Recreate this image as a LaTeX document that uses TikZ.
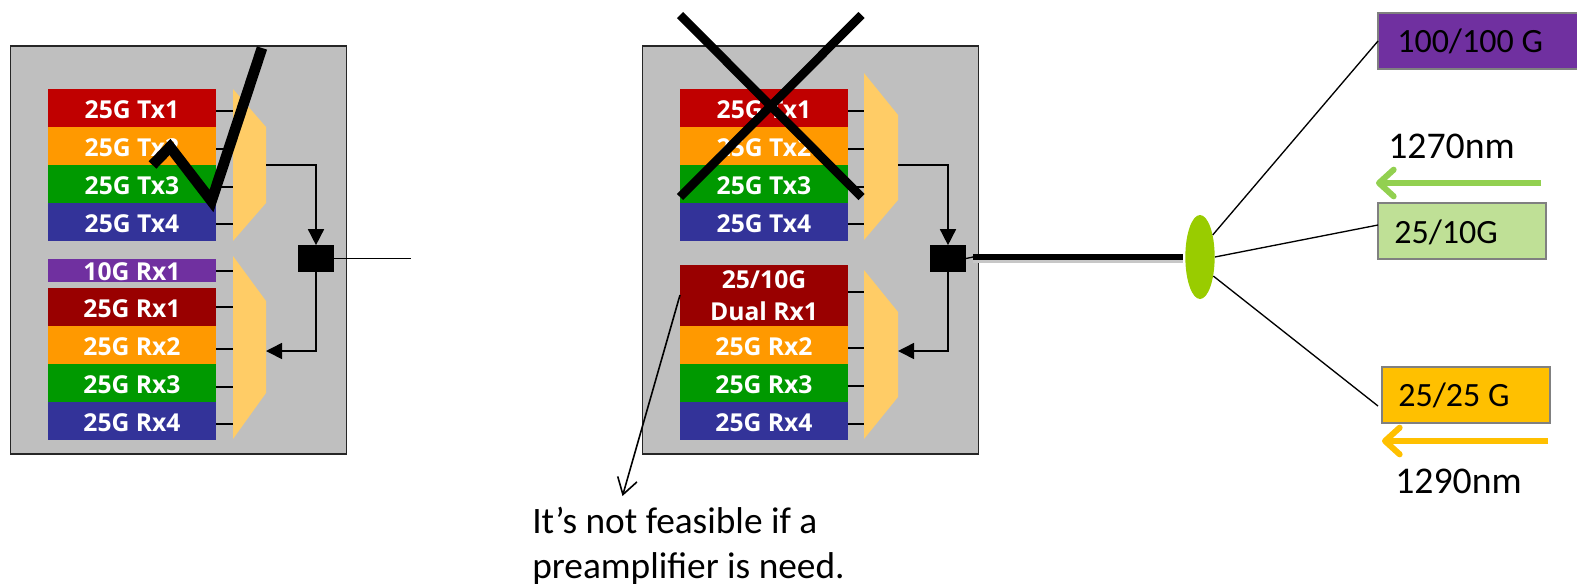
\documentclass[tikz,border=0pt]{standalone}
\usepackage{fontspec}
\usepackage{xcolor}
\usetikzlibrary{arrows.meta,shapes.geometric,calc}
\setmainfont{Carlito}
\newfontfamily\barfont{Open Sans}
\definecolor{boxgrey}{HTML}{BFBFBF}
\definecolor{txred}{HTML}{C00000}
\definecolor{txorange}{HTML}{FF9900}
\definecolor{txgreen}{HTML}{009900}
\definecolor{txblue}{HTML}{333399}
\definecolor{rxpurple}{HTML}{7030A0}
\definecolor{rxred}{HTML}{990000}
\definecolor{muxfill}{HTML}{FFCC66}
\definecolor{splitgreen}{HTML}{99CC00}
\definecolor{paleg}{HTML}{BFE096}
\definecolor{arrowg}{HTML}{92D050}
\definecolor{amber}{HTML}{FFC000}
\tikzset{
	modulebox/.style={draw=black!85, line width=1.1pt, fill=boxgrey, inner sep=0pt},
	barbox/.style={fill=#1, text=white, minimum width=126pt, inner sep=0pt, outer sep=0pt, font=\barfont\bfseries\fontsize{18.5}{24}\selectfont, align=center},
	lanebar/.style={barbox=#1, minimum height=28.5pt, text height=16.2pt, text depth=0pt},
	mux/.style={fill=muxfill},
	stub/.style={line width=1pt},
	link/.style={line width=1.2pt, -{Triangle[length=12pt,width=12pt]}},
	portbox/.style={fill=black, minimum width=27pt, minimum height=20pt, inner sep=0pt, outer sep=0pt},
	ratebox/.style={draw=black!50, line width=1.1pt, fill=#1, minimum height=42pt, inner sep=0pt, outer sep=0pt},
	ratetext/.style={font=\fontsize{25.5}{30}\selectfont, anchor=west, inner sep=0pt},
	nmtext/.style={font=\fontsize{28.3}{34}\selectfont, anchor=west, inner sep=0pt},
	fibre/.style={line width=1pt},
	lambda/.style={line width=4.5pt, -{Straight Barb[round,length=11pt,width=20pt]}},
	strike/.style={line width=6.5pt},
}
\begin{document}
\begin{tikzpicture}[x=0.75pt, y=-0.75pt]
	\useasboundingbox (0,0) rectangle (1577,583);
	% left module
	\node[modulebox, minimum width=252pt, minimum height=306pt] (modA) at (178.5,250) {};
	\fill[mux] (233,89) -- (266,127) -- (266,203) -- (233,241) -- cycle;
	\fill[mux] (233,256) -- (266,301) -- (266,393) -- (233,439) -- cycle;
	\coordinate (muxAt) at (266,165);
	\coordinate (muxAr) at (266,351);
	\foreach \y in {111,149,187,224,271,307,349,387,424}
		\draw[stub] (216,\y) -- (233,\y);
	\node[lanebar=txred] (aT1) at (132,108) {25G Tx1};
	\node[lanebar=txorange] (aT2) at (132,146) {25G Tx2};
	\node[lanebar=txgreen] (aT3) at (132,184) {25G Tx3};
	\node[lanebar=txblue] (aT4) at (132,222) {25G Tx4};
	\node[barbox=rxpurple, minimum height=17.25pt, text height=14.5pt, text depth=0pt] (aR0) at (132,270.5) {10G Rx1};
	\node[lanebar=rxred] (aR1) at (132,307) {25G Rx1};
	\node[lanebar=txorange] (aR2) at (132,345) {25G Rx2};
	\node[lanebar=txgreen] (aR3) at (132,383) {25G Rx3};
	\node[lanebar=txblue] (aR4) at (132,421) {25G Rx4};
	\node[portbox] (portA) at (316,258.5) {};
	\coordinate (endA) at (411,258.5);
	\draw[link] (muxAt) -| (portA.north);
	\draw[link] (portA.south) |- (muxAr);
	\draw[stub] (portA.east) -- (endA);
	\draw[line width=8pt, miter limit=10] (152.5,165) -- (170,147) -- (211.5,201) -- (262,48);
	% middle module
	\node[modulebox, minimum width=252pt, minimum height=306pt] (modB) at (810.5,250) {};
	\fill[mux] (864,73) -- (898,115) -- (898,200) -- (864,240) -- cycle;
	\fill[mux] (864,270) -- (898,312) -- (898,397) -- (864,439) -- cycle;
	\coordinate (muxBt) at (898,165);
	\coordinate (muxBr) at (898,351);
	\foreach \y in {111,149,187,224,292,348,386,424}
		\draw[stub] (848,\y) -- (864,\y);
	\node[lanebar=txred] (bT1) at (764,108) {25G Tx1};
	\node[lanebar=txorange] (bT2) at (764,146) {25G Tx2};
	\node[lanebar=txgreen] (bT3) at (764,184) {25G Tx3};
	\node[lanebar=txblue] (bT4) at (764,222) {25G Tx4};
	\node[barbox=rxred, minimum height=45.75pt] (bR1) at (764,295.5) {25/10G\\Dual Rx1};
	\node[lanebar=txorange] (bR2) at (764,345) {25G Rx2};
	\node[lanebar=txgreen] (bR3) at (764,383) {25G Rx3};
	\node[lanebar=txblue] (bR4) at (764,421) {25G Rx4};
	\node[portbox] (portB) at (948,258.5) {};
	\draw[link] (muxBt) -| (portB.north);
	\draw[link] (portB.south) |- (muxBr);
	\draw[strike] (680,15) -- (861.5,197);
	\draw[strike] (861.5,15) -- (680,197);
	% callout
	\node[font=\fontsize{28}{33.5}\selectfont, align=left, anchor=north west, inner sep=0pt] (note) at (532,507) {It’s not feasible if a\\preamplifier is need.};
	\coordinate (noteEnd) at (622.5,496);
	\draw[line width=1.2pt, -{Straight Barb[length=12pt,width=15pt]}] (bR1.west |- 0,295) -- (noteEnd);
	% splitter and rates
	\node[ellipse, fill=splitgreen, minimum width=22pt, minimum height=63pt, inner sep=0pt] (split) at (1200,257) {};
	\coordinate (fibreStart) at (973,257);
	\coordinate (fibreEnd) at (1183,257);
	\draw[line width=4pt, black!22] ($(fibreStart)+(0,3)$) -- ($(fibreEnd)+(0,3)$);
	\draw[stub] (portB.east) -- (fibreStart);
	\draw[line width=4pt] (fibreStart) -- (fibreEnd);
	\node[ratebox=rxpurple, minimum width=156pt, anchor=west] (rateA) at (1378,41) {};
	\node[ratebox=paleg, minimum width=126pt, anchor=west] (rateB) at (1378,231) {};
	\node[ratebox=amber, minimum width=126pt, anchor=west] (rateC) at (1382,395) {};
	\node[ratetext] (rateAt) at (1397,41) {100/100 G};
	\node[ratetext] (rateBt) at (1394,232) {25/10G};
	\node[ratetext] (rateCt) at (1398,395) {25/25 G};
	\coordinate (tapB) at (1378,225);
	\coordinate (tapC) at (1378,406);
	\draw[fibre] (split.60) -- (rateA.west);
	\draw[fibre] (split.east) -- (tapB);
	\draw[fibre] (split.-55) -- (tapC);
	\node[nmtext] (nmA) at (1388,146) {1270nm};
	\node[nmtext] (nmB) at (1395,481) {1290nm};
	\coordinate (lamAs) at (1541,183);
	\coordinate (lamAe) at (1376,183);
	\coordinate (lamBs) at (1548,441);
	\coordinate (lamBe) at (1382,441);
	\draw[lambda, color=arrowg] (lamAs) -- (lamAe);
	\draw[lambda, color=amber] (lamBs) -- (lamBe);
\end{tikzpicture}
\end{document}
